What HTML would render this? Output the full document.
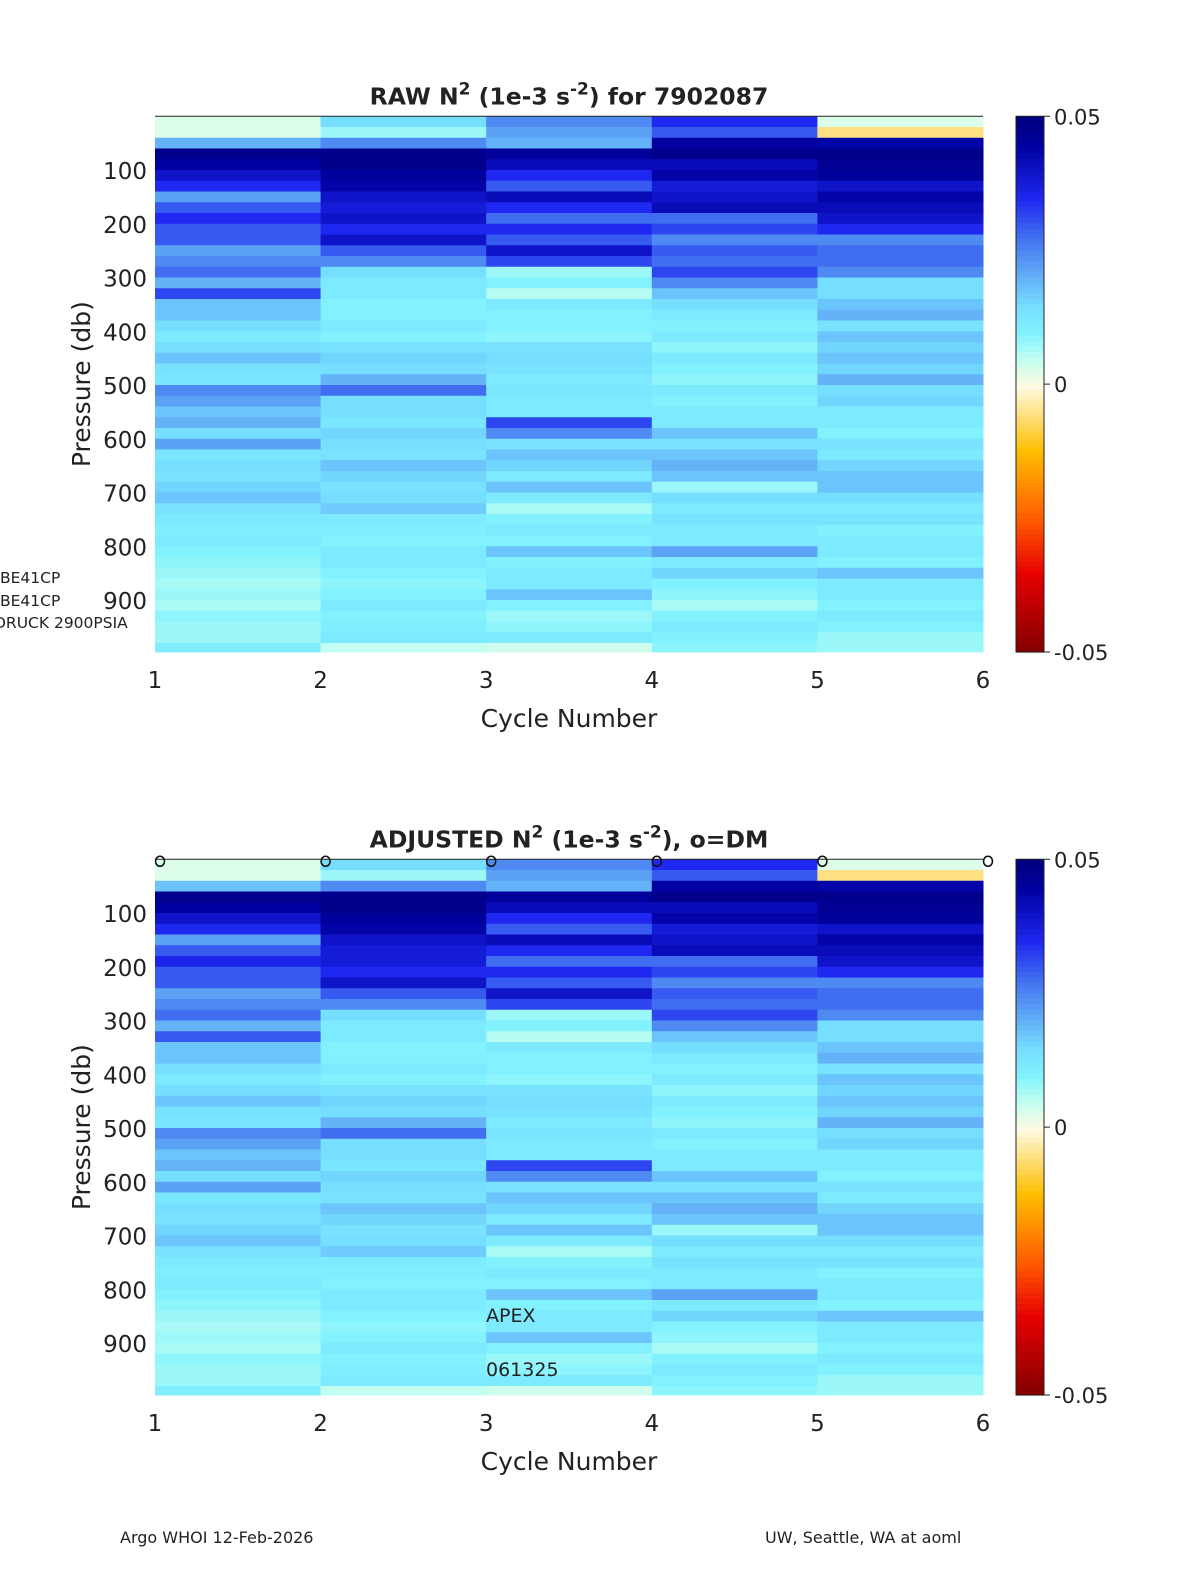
<!DOCTYPE html>
<html><head><meta charset="utf-8"><style>
body{margin:0;background:#fff;width:1200px;height:1575px;overflow:hidden}
svg{display:block}
text{font-family:"DejaVu Sans","Liberation Sans",sans-serif;fill:#222}
</style></head><body>
<svg id="fig" width="1200" height="1575" viewBox="0 0 1200 1575"></svg>
<script>
// values in units of 1e-3 s^-2, 20-db bins from 0 to 1000 db, one array per cycle
const cycles=[1,2,3,4,5];
const binSize=20;
const rawC1=[3,3,20,48,45,40,35,22,30,35,30,30,22,25,28,20,32,18,18,15,12,15,18,14,13,25,22,18,20,15,22,13,15,14,16,18,14,12,11,12,10,9,8,7,8,7,9,8,8,11];
const rawC2=[15,8,25,48,48,46,44,40,38,40,35,40,30,25,15,12,12,10,10,12,10,14,16,15,20,28,15,15,13,16,15,14,18,16,14,15,17,12,11,10,12,12,10,9,10,12,10,11,12,5];
const rawC3=[25,22,20,46,42,35,30,42,35,28,35,30,40,32,8,10,6,12,10,10,9,14,15,14,12,13,12,12,32,25,14,18,16,12,18,12,7,10,12,10,18,10,12,12,18,10,8,9,12,4];
const rawC4=[35,30,45,48,42,44,38,40,42,28,32,25,30,28,32,25,18,15,12,10,12,9,12,10,9,12,10,12,12,18,14,18,20,18,8,15,12,14,12,12,22,12,16,10,9,7,10,12,10,9];
const rawC5=[3,-5,44,48,47,46,40,44,42,40,35,25,28,28,25,15,15,18,20,14,18,16,18,16,20,15,16,12,12,10,14,12,16,18,18,15,12,14,10,12,12,10,18,12,12,10,12,10,8,8];
const adjC1=[3,3,18,48,45,40,35,22,30,36,30,30,22,25,28,20,30,18,18,15,12,15,18,14,13,25,22,18,20,15,22,13,15,14,16,18,14,12,11,12,10,9,8,7,8,7,9,8,8,11];
const adjC2=[15,8,25,48,48,46,44,40,38,38,35,40,30,25,15,12,12,10,10,12,10,14,16,15,20,28,15,15,13,16,15,14,18,16,14,15,17,12,11,10,12,12,10,9,10,12,10,11,12,5];
const adjC3=[25,22,20,46,42,35,30,42,35,28,35,30,40,32,8,10,6,12,10,10,9,14,15,14,12,13,12,12,32,25,14,18,16,12,18,12,7,10,12,10,18,10,12,12,18,10,8,9,12,4];
const adjC4=[35,30,45,48,42,44,38,40,42,28,32,25,30,28,32,25,18,15,12,10,12,9,12,10,9,12,10,12,12,18,14,18,20,18,8,15,12,14,12,12,22,12,16,10,9,7,10,12,10,9];
const adjC5=[3,-5,44,48,47,46,40,44,42,40,35,25,28,28,25,15,15,18,20,14,18,16,18,16,20,15,16,12,12,10,14,12,16,18,18,15,12,14,10,12,12,10,18,12,12,10,12,10,8,8];
const xTicks=[1,2,3,4,5,6];
const yTicks=[100,200,300,400,500,600,700,800,900];
const cbTicks=["0.05","0","-0.05"];
const dmCycles=[1,2,3,4,5,6];

const NS="http://www.w3.org/2000/svg";
const svg=document.getElementById('fig');
function mk(tag,attrs,parent){const e=document.createElementNS(NS,tag);for(const k in attrs)e.setAttribute(k,attrs[k]);(parent||svg).appendChild(e);return e;}
const stops=[[-50,[128,0,0]],[-35,[230,0,0]],[-25,[255,90,0]],[-12,[255,190,0]],[0,[255,250,225]],[5,[195,255,240]],[10,[130,242,255]],[15,[118,222,255]],[20,[100,178,248]],[27,[70,120,240]],[35,[30,40,240]],[45,[0,0,160]],[50,[0,0,128]]];
function color(v){v=Math.max(-50,Math.min(50,v));for(let i=1;i<stops.length;i++){if(v<=stops[i][0]){const a=stops[i-1],b=stops[i],t=(v-a[0])/(b[0]-a[0]);const c=a[1].map((x,j)=>Math.round(x+(b[1][j]-x)*t));return `rgb(${c})`;}}return 'rgb(0,0,128)';}

function panel(top,cols,title,isAdj){
  const x0=155,x1=983,pTop=top,pBot=top+535.75;
  const xs=c=>x0+(c-1)*(x1-x0)/5;
  const ys=p=>pTop+p*0.5375;
  const g=mk('g',{});
  
  
  cols.forEach((arr,ci)=>{
    arr.forEach((v,bi)=>{
      const y=ys(bi*binSize),h=ys(Math.min((bi+1)*binSize,997))-y;
      const r=mk('rect',{x:xs(cycles[ci]),y:y,width:xs(cycles[ci]+1)-xs(cycles[ci])+0.5,height:h+0.3,fill:color(v)},g);
      
      
    });
  });
  mk('line',{x1:x0,x2:x1,y1:pTop,y2:pTop,stroke:'#222','stroke-width':1},g);
  yTicks.forEach(p=>{const t=mk('text',{x:147,y:ys(p)+9,'font-size':23,'text-anchor':'end'},g);t.textContent=p;
    });
  xTicks.forEach(c=>{const t=mk('text',{x:xs(c),y:pBot+36,'font-size':23,'text-anchor':'middle'},g);t.textContent=c;
    });
  const xt=mk('text',{x:569,y:pBot+75,'font-size':25,'text-anchor':'middle'},g);xt.textContent='Cycle Number';
  
  const yt=mk('text',{x:0,y:0,'font-size':25,'text-anchor':'middle',transform:`translate(90,${(pTop+pBot)/2}) rotate(-90)`},g);yt.textContent='Pressure (db)';
  
  const tt=mk('text',{x:569,y:top-12,'font-size':23.5,'font-weight':'bold','text-anchor':'middle'},g);
  tt.innerHTML=title;
  
  const cb=mk('g',{},g);
  const n=100;for(let i=0;i<n;i++){const v=50-100*i/n;mk('rect',{x:1016,y:pTop+i*(pBot-pTop)/n,width:28,height:(pBot-pTop)/n+0.6,fill:color(v)},cb);}
  mk('rect',{x:1016,y:pTop,width:28,height:pBot-pTop,fill:'none',stroke:'#222','stroke-width':1},cb);
  cbTicks.forEach((s,i)=>{const y=pTop+i*(pBot-pTop)/2;mk('line',{x1:1044,x2:1050,y1:y,y2:y,stroke:'#222'},cb);
    const t=mk('text',{x:1054,y:y+8,'font-size':21},cb);t.textContent=s;});
  if(isAdj){dmCycles.forEach(c=>{const m=mk('ellipse',{cx:xs(c)+5,cy:pTop+2,rx:4.5,ry:5,fill:'none',stroke:'#111','stroke-width':1.6},g);
    });}
}
panel(116.25,[rawC1,rawC2,rawC3,rawC4,rawC5],'RAW N<tspan dy="-10" font-size="17">2</tspan><tspan dy="10"> (1e-3 s</tspan><tspan dy="-10" font-size="17">-2</tspan><tspan dy="10">) for 7902087</tspan>',false);
panel(859.25,[adjC1,adjC2,adjC3,adjC4,adjC5],'ADJUSTED N<tspan dy="-10" font-size="17">2</tspan><tspan dy="10"> (1e-3 s</tspan><tspan dy="-10" font-size="17">-2</tspan><tspan dy="10">), o=DM</tspan>',true);

function label(x,y,s,size,name){const t=mk('text',{x:x,y:y,'font-size':size});t.textContent=s;}
label(0,583,'BE41CP',15.5,'sensor-label');
label(0,606,'BE41CP',15.5,'sensor-label');
label(-6,628,'DRUCK 2900PSIA',15.5,'sensor-label');
label(486,1322,'APEX',19,'float-type-label');
label(486,1376,'061325',19,'float-id-label');
label(120,1543,'Argo WHOI 12-Feb-2026',16,'footer-left');
label(765,1543,'UW, Seattle, WA at aoml',16,'footer-right');
</script>
</body></html>
